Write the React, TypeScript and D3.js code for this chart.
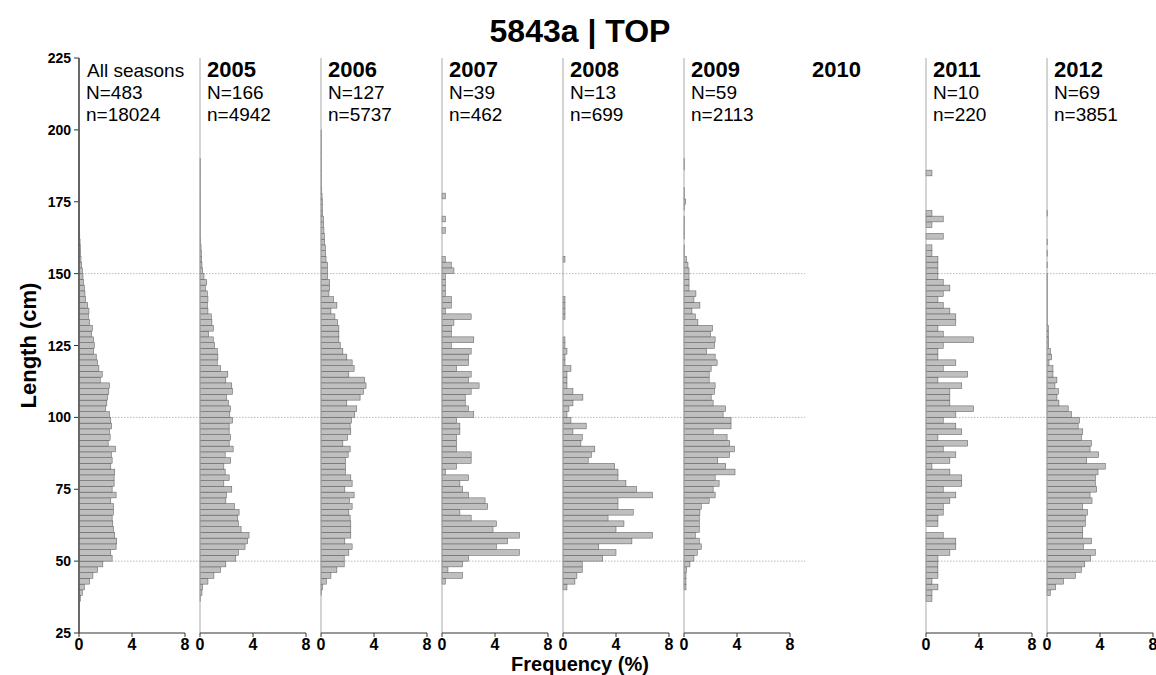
import * as d3 from "d3"

// frequency (%) per 2 cm length bin, first bin starts at 36 cm
const binStart = 36
const binWidth = 2

const allSeasons = [0.1, 0.25, 0.4, 0.8, 1.05, 1.4, 1.8,
  2.5, 2.4, 2.8, 2.85, 2.7, 2.6, 2.55, 2.5, 2.6, 2.6, 2.4, 2.8, 2.5, 2.65, 2.65, 2.7, 2.4, 2.5, 2.45, 2.75, 2.2, 2.35, 2.3, 2.45, 2.4,
  2.3, 2.0, 2.1, 2.15, 2.25, 2.3, 1.6, 1.75, 1.5, 1.4, 1.3, 1.1, 1.15, 1.1, 0.95, 1.0, 0.8, 0.7, 0.75, 0.65, 0.5, 0.45, 0.4, 0.35,
  0.3, 0.25, 0.2, 0.15, 0.12, 0.1, 0.08, 0.06, 0.05, 0.05, 0.04, 0.03, 0.03, 0.02, 0.02, 0.02, 0.02, 0.02, 0.02, 0.02, 0.02, 0.02, 0.02, 0.02, 0.02, 0.02]
const s2005 = [0.05, 0.15, 0.2, 0.6, 1.05, 1.55, 1.95,
  2.7, 2.9, 3.4, 3.6, 3.7, 3.1, 2.9, 2.85, 2.95, 2.6, 1.95, 2.0, 2.4, 1.8, 2.2, 1.9, 1.8, 2.3, 1.9, 2.5, 2.2, 2.3, 2.2, 2.2, 2.45,
  2.25, 2.3, 2.15, 2.0, 2.45, 2.4, 1.95, 2.1, 1.55, 1.3, 1.35, 1.3, 1.1, 1.0, 0.65, 1.0, 0.9, 0.85, 0.6, 0.55, 0.6, 0.55, 0.4, 0.5,
  0.3, 0.2, 0.15, 0.12, 0.1, 0.08, 0.06, 0.05, 0.04, 0.03, 0.03, 0.02, 0.02, 0.02, 0.02, 0.02, 0.02, 0.02, 0.02, 0.02, 0.02]
const s2006 = [0, 0.05, 0.12, 0.4, 0.75, 1.2, 1.75,
  1.75, 2.1, 2.35, 1.8, 2.25, 2.25, 2.25, 2.2, 2.1, 2.35, 2.15, 2.5, 1.8, 2.35, 2.25, 1.85, 1.85, 1.85, 2.05, 2.2, 1.65, 2.0, 2.25, 2.2, 2.3,
  2.55, 2.7, 1.95, 2.95, 3.2, 3.4, 3.3, 2.1, 2.5, 2.35, 1.95, 1.65, 1.45, 1.35, 1.35, 1.35, 1.25, 1.05, 0.75, 1.2, 0.95, 0.6, 0.65, 0.65, 0.5,
  0.5, 0.5, 0.38, 0.35, 0.33, 0.28, 0.25, 0.22, 0.2, 0.18, 0.12, 0.1, 0.1, 0.08, 0.06, 0.05, 0.05, 0.04, 0.04, 0.03, 0.03, 0.02, 0.02, 0.02, 0.02]
const s2007 = [0, 0, 0, 0.25, 1.55, 0.45, 1.55, 2.0,
  5.85, 4.1, 4.95, 5.85, 3.85, 4.1, 2.2, 1.35, 3.45, 3.25, 2.0, 1.55, 1.35, 2.0, 0.25, 1.1, 2.2, 2.2, 1.1, 1.1, 1.1, 1.35, 1.35, 1.1,
  2.4, 2.0, 1.75, 1.75, 2.2, 2.8, 2.0, 2.2, 1.1, 2.0, 2.0, 2.2, 0.7, 2.4, 0.7, 0.7, 0.9, 2.2, 0.25, 0.7, 0.7, 0.25, 0.25, 0.25, 0.25,
  0.9, 0.7, 0.25, 0, 0, 0, 0, 0.25, 0, 0.25, 0, 0, 0, 0.25]
const s2008 = [0, 0, 0.3, 0.9, 1.05, 1.45, 1.45,
  3.0, 4.0, 2.7, 5.2, 6.75, 4.0, 4.6, 3.4, 5.3, 4.15, 4.15, 6.75, 5.55, 4.75, 4.15, 4.15, 3.9, 1.9, 2.15, 2.4, 1.35, 1.45, 0.75, 1.75, 0.6,
  0.3, 0.45, 0.75, 1.5, 0.75, 0.3, 0.3, 0.3, 0.6, 0.15, 0.15, 0.3, 0.15, 0.15, 0, 0, 0, 0.15, 0.15, 0.15, 0.15, 0, 0, 0, 0,
  0, 0, 0.15]
const s2009 = [0, 0, 0.15, 0.15, 0.15, 0.2, 0.45,
  0.75, 1.0, 1.3, 1.15, 0.85, 1.15, 1.15, 1.15, 1.2, 1.3, 1.9, 2.35, 2.2, 2.65, 2.35, 3.85, 3.15, 2.55, 3.45, 3.8, 3.45, 3.25, 2.2, 3.55, 3.55,
  2.95, 3.15, 2.2, 2.05, 2.3, 2.35, 1.9, 1.9, 2.05, 2.5, 2.35, 1.7, 2.3, 2.35, 2.0, 2.15, 1.05, 0.85, 0.6, 1.2, 0.75, 0.9, 0.38, 0.38, 0.38,
  0.38, 0.3, 0.18, 0.05, 0.05, 0, 0.05, 0.05, 0.05, 0.05, 0, 0.05, 0.12, 0.05, 0.05, 0, 0, 0, 0.05, 0.05]
const s2011 = [0.45, 0.45, 0.9, 0.45, 0.9, 0.9, 0.9,
  0.9, 1.8, 2.25, 2.25, 1.3, 0, 0.9, 0.9, 1.3, 1.3, 1.8, 2.25, 1.3, 2.7, 2.7, 1.8, 0.45, 1.8, 2.25, 1.3, 3.15, 0.9, 2.7, 2.25, 1.3,
  2.25, 3.6, 1.8, 1.8, 1.8, 2.7, 0.9, 3.15, 1.3, 2.25, 0.9, 0.9, 1.3, 3.6, 1.3, 0.9, 2.25, 2.25, 1.8, 1.3, 0.9, 1.3, 1.8, 1.3, 0.9,
  0.9, 0.9, 0.9, 0.45, 0.45, 0, 1.3, 0, 0.45, 1.3, 0.45, 0, 0, 0, 0, 0, 0, 0.45]
const s2012 = [0, 0.25, 0.65, 1.25, 2.15, 2.6, 2.85, 3.3,
  3.65, 2.75, 3.35, 2.7, 2.7, 2.9, 2.9, 3.05, 2.7, 3.4, 3.25, 3.75, 3.65, 3.65, 3.85, 4.4, 3.0, 3.9, 3.25, 3.35, 2.6, 2.7, 2.35, 2.45,
  1.85, 1.6, 0.9, 0.75, 0.85, 0.6, 0.75, 0.45, 0.45, 0.15, 0.35, 0.25, 0.12, 0.12, 0.1, 0.1, 0.05, 0.05, 0.05, 0.05, 0.05, 0.05, 0.05, 0.05,
  0.05, 0, 0.05, 0, 0.05, 0, 0.05, 0, 0, 0, 0, 0.05]

const panelTitles = ["All seasons", "2005", "2006", "2007", "2008", "2009", "2010", "2011", "2012"]
const panelN = ["N=483", "N=166", "N=127", "N=39", "N=13", "N=59", "", "N=10", "N=69"]
const panelSmallN = ["n=18024", "n=4942", "n=5737", "n=462", "n=699", "n=2113", "", "n=220", "n=3851"]
const panelSeries: (number[] | null)[] = [allSeasons, s2005, s2006, s2007, s2008, s2009, null, s2011, s2012]

const yTicks = [25, 50, 75, 100, 125, 150, 175, 200, 225]
const xTicks = [0, 4, 8]
const gridLines = [50, 100, 150]

const W = 1156
const H = 675
const font = "Arial, 'Liberation Sans', sans-serif"

export default function App() {
  const y = d3.scaleLinear().domain([25, 225]).range([633, 58])
  const panelX = d3.scaleLinear().domain([0, 1]).range([79, 200])
  const panelW = 106

  return (
    <svg width={W} height={H} style={{ position: "absolute", left: 0, top: 0, background: "#fff" }} fontFamily={font}>
      <text x={580} y={42} textAnchor="middle" fontSize={32} fontWeight="bold">5843a | TOP</text>

      {/* y axis */}
      <line x1={79} x2={79} y1={y(225)} y2={y(25)} stroke="#333" />
      {yTicks.map((t) => (
        <g key={t}>
          <line x1={74} x2={79} y1={y(t)} y2={y(t)} stroke="#333" />
          <text x={71} y={y(t) + 5} textAnchor="end" fontSize={14} fontWeight="bold">{t}</text>
        </g>
      ))}
      <text transform={`translate(36,${y(125)}) rotate(-90)`} textAnchor="middle" fontSize={22} fontWeight="bold">Length (cm)</text>
      <text x={580} y={671} textAnchor="middle" fontSize={20} fontWeight="bold">Frequency (%)</text>

      {panelSeries.map((series, i) => {
        const x0 = panelX(i)
        const x = d3.scaleLinear().domain([0, 8]).range([x0, x0 + panelW])
        const bold = i > 0
        return (
          <g key={i}>
            <text x={x0 + (bold ? 7 : 8)} y={77} fontSize={bold ? 22 : 19} fontWeight={bold ? "bold" : "normal"}>{panelTitles[i]}</text>
            <text x={x0 + 7} y={99} fontSize={19}>{panelN[i]}</text>
            <text x={x0 + 7} y={121} fontSize={19}>{panelSmallN[i]}</text>
            {series && (
              <g>
                {gridLines.map((g) => (
                  <line key={g} x1={x0} x2={x0 + 121} y1={y(g)} y2={y(g)} stroke="#999" strokeWidth={0.7} strokeDasharray="1.5 1.5" />
                ))}
                {series.map((v, j) => {
                  if (v <= 0) return null
                  const lo = binStart + j * binWidth
                  return (
                    <rect key={j} x={x(0)} y={y(lo + binWidth)} width={Math.max(x(v) - x(0), 0.6)} height={y(lo) - y(lo + binWidth)}
                      fill="#bfbfbf" stroke="#555" strokeWidth={0.5} />
                  )
                })}
                <line x1={x0} x2={x0} y1={y(225)} y2={y(25)} stroke="#aaa" />
                <line x1={x0} x2={x0 + panelW} y1={y(25)} y2={y(25)} stroke="#333" />
                {xTicks.map((t) => (
                  <g key={t}>
                    <line x1={x(t)} x2={x(t)} y1={y(25)} y2={y(25) + 4} stroke="#333" />
                    <text x={x(t)} y={650} textAnchor="middle" fontSize={16} fontWeight="bold">{t}</text>
                  </g>
                ))}
              </g>
            )}
          </g>
        )
      })}
      <line x1={79} x2={79} y1={y(225)} y2={y(25)} stroke="#333" />
    </svg>
  )
}
